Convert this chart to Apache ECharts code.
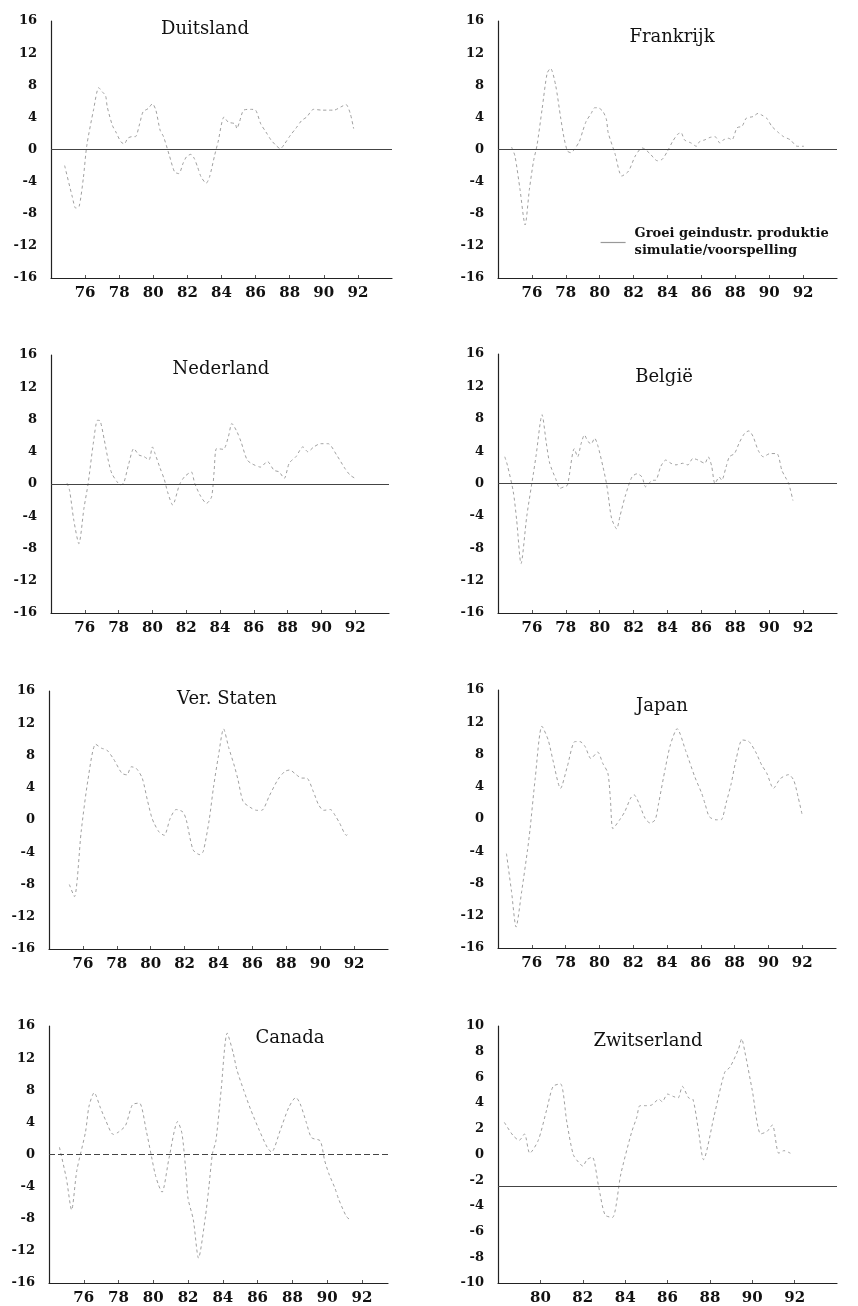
<!DOCTYPE html>
<html><head><meta charset="utf-8">
<script src="https://cdn.jsdelivr.net/npm/echarts@6/dist/echarts.min.js"></script>
<style>html,body{margin:0;padding:0;background:#fff}#c{width:858px;height:1306px}</style>
</head><body><div id="c"></div>
<script>
// ---- data: [year (19xx), growth %] ----
const duitsland = [[74.8,-2.0],[75.25,-5.9],[75.45,-7.3],[75.65,-7.1],[75.9,-3.5],[76.1,0.5],[76.5,5.0],[76.8,7.7],[77.0,7.2],[77.2,6.7],[77.3,5.3],[77.6,3.0],[77.8,2.2],[78.1,0.95],[78.3,0.7],[78.5,1.4],[78.75,1.6],[78.95,1.6],[79.2,3.2],[79.4,4.7],[79.7,5.1],[79.95,5.7],[80.15,4.9],[80.4,2.4],[80.6,1.6],[80.95,-0.8],[81.25,-2.8],[81.5,-3.0],[81.75,-1.7],[81.95,-0.9],[82.2,-0.6],[82.4,-1.1],[82.6,-2.2],[82.8,-3.4],[83.1,-4.2],[83.3,-3.4],[83.6,-0.7],[83.8,0.95],[84.15,4.05],[84.4,3.4],[84.8,3.2],[84.9,2.6],[85.05,3.4],[85.3,4.9],[85.7,5.0],[86.0,4.9],[86.3,3.2],[86.6,2.2],[86.9,1.2],[87.2,0.5],[87.45,0.1],[87.7,0.7],[88.05,1.8],[88.35,2.6],[88.7,3.6],[89.0,4.05],[89.4,5.0],[89.9,4.9],[90.3,4.9],[90.6,4.9],[91.0,5.3],[91.3,5.6],[91.55,4.5],[91.75,2.6]];
const frankrijk = [[74.8,0.3],[75.0,-0.8],[75.3,-5],[75.6,-9.4],[75.85,-5],[76.1,-1.4],[76.3,0.5],[76.6,5],[76.9,9.5],[77.1,10.1],[77.4,8.0],[77.7,3.9],[77.9,1.4],[78.1,-0.2],[78.3,-0.4],[78.5,0],[78.8,1.0],[79.0,2.3],[79.2,3.5],[79.5,4.5],[79.7,5.2],[79.9,5.2],[80.2,4.7],[80.4,3.7],[80.5,2.1],[80.9,-0.5],[81.3,-3.3],[81.7,-2.7],[82.1,-0.8],[82.5,0.2],[82.7,0],[83.0,-0.6],[83.4,-1.4],[83.7,-1.2],[84.0,-0.2],[84.3,1.0],[84.6,1.9],[84.8,2.1],[85.0,1.2],[85.4,0.8],[85.7,0.4],[85.9,1.0],[86.2,1.2],[86.5,1.5],[86.8,1.6],[87.1,0.8],[87.3,1.2],[87.6,1.4],[87.8,1.2],[88.1,2.7],[88.4,2.9],[88.65,3.9],[89.05,4.1],[89.35,4.5],[89.55,4.3],[89.85,3.9],[90.15,2.9],[90.55,2.1],[90.85,1.6],[91.25,1.2],[91.65,0.4],[92.05,0.4]];
const nederland = [[74.95,0.1],[75.1,-0.8],[75.35,-4.5],[75.65,-7.4],[75.95,-3],[76.2,0.1],[76.5,5.0],[76.75,7.9],[76.9,7.85],[77.15,5.5],[77.4,2.8],[77.6,1.3],[77.9,0.3],[78.1,-0.1],[78.3,0.1],[78.6,2.5],[78.9,4.4],[79.2,3.6],[79.5,3.4],[79.8,3.0],[80.0,4.6],[80.15,3.8],[80.45,2.0],[80.7,0.6],[80.9,-1.0],[81.2,-2.6],[81.6,-0.1],[81.9,0.9],[82.3,1.5],[82.5,0.1],[82.85,-1.5],[83.2,-2.4],[83.5,-1.6],[83.65,1.5],[83.8,4.4],[84.2,4.3],[84.5,5.9],[84.7,7.5],[85.0,6.5],[85.25,5.2],[85.6,3.0],[85.9,2.5],[86.4,2.1],[86.8,2.8],[87.2,1.7],[87.5,1.5],[87.8,0.7],[88.1,2.6],[88.5,3.4],[88.9,4.6],[89.2,4.0],[89.55,4.6],[89.95,5.0],[90.4,5.0],[90.9,3.6],[91.4,1.9],[91.7,1.1],[92.0,0.7]];
const belgie = [[74.4,3.3],[74.55,2.3],[74.9,-1.0],[75.1,-4.5],[75.36,-9.9],[75.7,-4],[76.1,1.4],[76.25,3.5],[76.6,8.5],[76.85,5],[77.05,2.5],[77.4,0.6],[77.65,-0.6],[77.9,-0.4],[78.1,-0.2],[78.5,4.3],[78.7,3.3],[78.9,4.9],[79.1,6.0],[79.3,5.2],[79.5,4.9],[79.7,5.6],[79.9,4.6],[80.2,2],[80.4,0],[80.5,-1.4],[80.7,-4.3],[81.0,-5.6],[81.2,-4],[81.5,-1.6],[81.9,0.8],[82.2,1.2],[82.5,0.8],[82.7,-0.4],[82.9,0],[83.1,0.4],[83.3,0.4],[83.6,2.1],[83.9,2.9],[84.2,2.5],[84.5,2.3],[84.9,2.5],[85.2,2.3],[85.5,3.1],[85.8,2.9],[86.2,2.5],[86.4,3.3],[86.6,2.2],[86.8,0],[87.05,0.8],[87.2,0.4],[87.45,2],[87.65,3.3],[87.95,3.7],[88.25,5.1],[88.55,6.2],[88.8,6.5],[89.05,5.8],[89.35,4.1],[89.65,3.3],[90.05,3.7],[90.45,3.7],[90.75,1.6],[90.95,0.8],[91.15,0],[91.4,-2.1]];
const verStaten = [[75.2,-8.0],[75.5,-9.5],[75.9,-1.4],[76.3,5],[76.75,9.4],[77.1,8.9],[77.4,8.7],[77.8,7.6],[78.3,5.8],[78.6,5.6],[78.85,6.6],[79.15,6.4],[79.5,5.2],[79.8,2.5],[80.05,0.4],[80.2,-0.4],[80.5,-1.5],[80.8,-1.9],[81.15,0.2],[81.5,1.3],[81.9,1.0],[82.1,0],[82.5,-3.7],[82.9,-4.3],[83.1,-3.9],[83.45,0],[83.7,4],[84.0,8],[84.3,11.3],[84.6,9],[84.95,6.6],[85.15,5.0],[85.45,2.3],[85.85,1.6],[86.25,1.2],[86.55,1.2],[87.0,3],[87.5,5],[87.9,6.0],[88.2,6.2],[88.6,5.6],[88.9,5.2],[89.2,5.2],[89.6,3.5],[89.9,1.9],[90.2,1.2],[90.6,1.3],[90.9,0.5],[91.15,-0.4],[91.55,-1.9],[91.7,-1.6]];
const japan = [[74.5,-4.3],[74.8,-9],[75.07,-13.4],[75.4,-9],[75.75,-3.8],[75.9,-1.2],[76.2,5],[76.6,11.5],[76.97,9.8],[77.25,7.3],[77.7,3.8],[78.1,6.5],[78.55,9.6],[78.85,9.6],[79.15,9.0],[79.5,7.5],[79.9,8.3],[80.2,6.9],[80.5,5.7],[80.65,2.5],[80.8,-1.2],[81.2,-0.1],[81.5,0.9],[81.85,2.6],[82.05,3.0],[82.35,1.9],[82.7,0.1],[83.0,-0.5],[83.3,-0.1],[83.5,1.9],[83.9,6.3],[84.2,9.2],[84.6,11.2],[85.1,8.5],[85.65,5.2],[86.05,3.2],[86.25,1.9],[86.5,0.3],[86.9,-0.1],[87.2,-0.1],[87.5,2],[87.8,4.4],[88.1,7.5],[88.45,9.8],[88.85,9.6],[89.25,8.3],[89.6,6.7],[89.9,5.7],[90.3,3.8],[90.7,5.0],[91.2,5.5],[91.5,4.8],[91.75,2.8],[92.0,0.5]];
const canada = [[74.6,0.9],[75.0,-3],[75.3,-6.9],[75.6,-2],[76.1,2.8],[76.3,6.0],[76.6,7.7],[76.96,5.8],[77.25,4.3],[77.7,2.5],[78.0,2.8],[78.4,3.6],[78.8,6.2],[79.2,6.4],[79.6,2.9],[79.9,-0.3],[80.1,-2.4],[80.3,-3.8],[80.5,-4.7],[80.9,-0.5],[81.4,4.1],[81.65,2.6],[81.9,-2.8],[82.0,-5.5],[82.3,-8.1],[82.6,-12.9],[83.0,-7.7],[83.2,-4.0],[83.4,0.1],[83.6,1.7],[83.9,8],[84.25,15.1],[84.6,12.6],[84.8,10.6],[85.2,8],[85.6,5.6],[86.1,3],[86.55,0.9],[86.8,0.3],[87.3,3],[87.8,5.9],[88.2,7.1],[88.45,6.3],[88.8,4],[89.1,2.1],[89.6,1.7],[89.85,-0.7],[90.1,-2.4],[90.45,-4.2],[90.65,-5.5],[91.1,-7.7],[91.3,-8.1]];
const zwitserland = [[78.3,2.5],[78.7,1.5],[79.0,1.1],[79.25,1.6],[79.5,0.1],[79.9,1.1],[80.3,3.5],[80.6,5.3],[80.95,5.5],[81.25,2.5],[81.55,0],[81.8,-0.6],[82.0,-0.9],[82.2,-0.4],[82.45,-0.2],[82.75,-2.5],[83.05,-4.7],[83.4,-4.9],[83.8,-1.5],[84.3,1.7],[84.55,2.9],[84.7,3.8],[85.0,3.8],[85.25,3.85],[85.6,4.3],[85.75,4.1],[86.0,4.7],[86.3,4.5],[86.5,4.4],[86.7,5.3],[87.0,4.4],[87.2,4.3],[87.45,2.0],[87.7,-0.4],[88.2,3],[88.7,6.4],[88.95,6.8],[89.35,8.2],[89.5,9.0],[89.65,8.0],[90.0,5],[90.4,1.6],[90.7,1.8],[90.95,2.3],[91.25,0.1],[91.5,0.3],[91.8,0.1]];

const panelNames = ['Duitsland','Frankrijk','Nederland','België','Ver. Staten','Japan','Canada','Zwitserland'];
const panelData = [duitsland, frankrijk, nederland, belgie, verStaten, japan, canada, zwitserland];
const baselines = [0, 0, 0, 0, null, null, 0, -2.5];
const xLabels = [76, 78, 80, 82, 84, 86, 88, 90, 92];
const xLabelsZw = [80, 82, 84, 86, 88, 90, 92];
const legendLines = ['Groei geindustr. produktie', 'simulatie/voorspelling'];

// ---- layout ----
const grids = [
  {left: 51, top: 21, width: 341, height: 257},
  {left: 498, top: 21, width: 339, height: 257},
  {left: 51, top: 355, width: 338, height: 258},
  {left: 498, top: 354, width: 339, height: 259},
  {left: 49, top: 691, width: 339, height: 258},
  {left: 498, top: 690, width: 338, height: 258},
  {left: 49, top: 1026, width: 339, height: 259},
  {left: 498, top: 1026, width: 339, height: 257}
];
const xMins = [74, 74, 74, 74, 74, 74, 74, 78];
const xMaxs = [94, 94, 94, 94, 94, 94, 93.5, 94];
const titlePos = [[205,20],[672,28],[221,360],[664,368],[227,690],[662,697],[290,1029],[648,1032]];
const SERIF = '"DejaVu Serif", "Liberation Serif", serif';

const xAxes = [], yAxes = [], series = [], titles = [];
grids.forEach((g, i) => {
  const zw = i === 7;
  const labs = zw ? xLabelsZw : xLabels;
  xAxes.push({
    gridIndex: i, type: 'value', min: xMins[i], max: xMaxs[i], interval: 2,
    splitLine: {show: false},
    axisLine: {show: true, onZero: false, lineStyle: {color: '#222', width: 1.2}},
    axisTick: {show: true, inside: true, length: 3, lineStyle: {color: '#555'}},
    axisLabel: {
      margin: 8, color: '#111', fontFamily: SERIF, fontWeight: 'bold', fontSize: 15,
      showMinLabel: false, showMaxLabel: false,
      formatter: v => labs.indexOf(Math.round(v)) >= 0 ? String(Math.round(v)) : ''
    }
  });
  yAxes.push({
    gridIndex: i, type: 'value', min: zw ? -10 : -16, max: zw ? 10 : 16, interval: zw ? 2 : 4,
    splitLine: {show: false},
    axisLine: {show: true, onZero: false, lineStyle: {color: '#222', width: 1.2}},
    axisTick: {show: false},
    axisLabel: {margin: 14, color: '#111', fontFamily: SERIF, fontWeight: 'bold', fontSize: 13}
  });
  const s = {
    name: legendLines[0], type: 'line', xAxisIndex: i, yAxisIndex: i,
    data: panelData[i], showSymbol: false, smooth: 0.25,
    lineStyle: {color: '#a0a0a0', width: 1, type: [3, 3]},
    itemStyle: {color: '#a0a0a0'},
    silent: true, animation: false
  };
  if (baselines[i] !== null) {
    s.markLine = {
      silent: true, symbol: 'none', label: {show: false},
      lineStyle: {color: '#444', width: 1, type: i === 6 ? [6, 3] : 'solid'},
      data: [{yAxis: baselines[i]}]
    };
  }
  series.push(s);
  titles.push({
    text: panelNames[i], left: titlePos[i][0], top: titlePos[i][1], textAlign: 'center', padding: 0,
    textStyle: {fontFamily: SERIF, fontWeight: 'normal', fontSize: 18, color: '#111'}
  });
});

const chart = echarts.init(document.getElementById('c'), null, {renderer: 'canvas'});
chart.setOption({
  backgroundColor: '#fff',
  animation: false,
  title: titles,
  grid: grids,
  xAxis: xAxes,
  yAxis: yAxes,
  series: series,
  legend: {
    data: [legendLines[0]], left: 600, top: 217, padding: 0,
    itemWidth: 25, itemHeight: 10,
    lineStyle: {type: 'solid', color: '#999', width: 1.2},
    itemStyle: {opacity: 0},
    formatter: () => legendLines.join('\n'),
    textStyle: {fontFamily: SERIF, fontWeight: 'bold', fontSize: 13, color: '#111', lineHeight: 17, padding: [17, 0, 0, 4]}
  }
});
</script></body></html>
